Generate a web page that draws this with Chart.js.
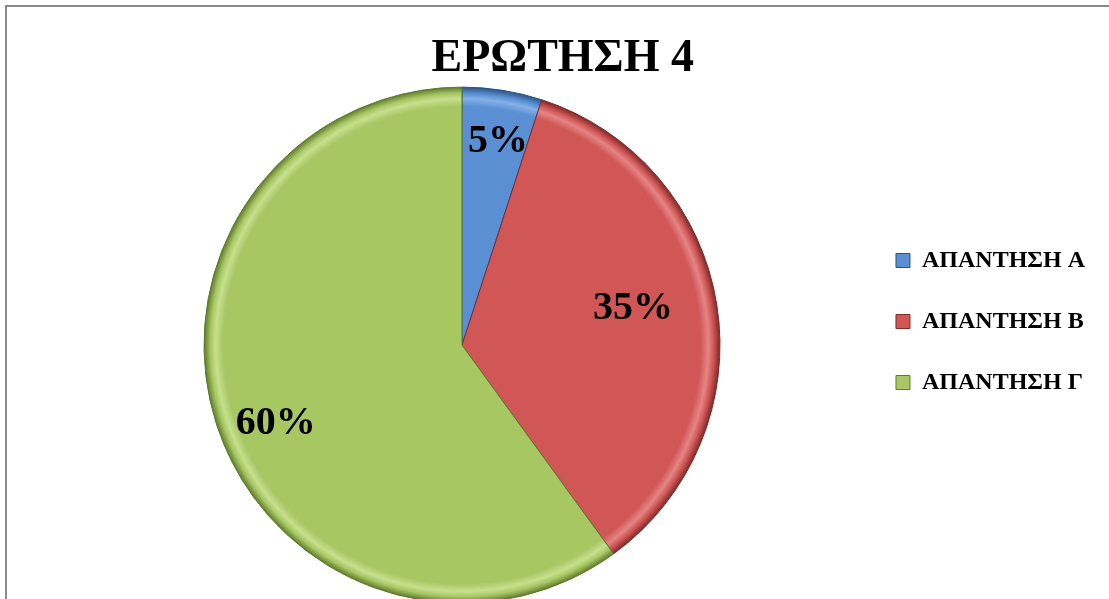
<!DOCTYPE html>
<html>
<head>
<meta charset="utf-8">
<script src="https://cdn.jsdelivr.net/npm/chart.js"></script>
<style>
  html, body { margin: 0; padding: 0; background: #fff; overflow: hidden; }
  #wrap { position: relative; width: 1109px; height: 599px; }
  #frame { position: absolute; left: 5px; top: 5px; width: 1120px; height: 620px; border: 2px solid #8a8a8a; box-sizing: border-box; }
  canvas { position: absolute; left: 0; top: 0; }
</style>
</head>
<body>
<div id="wrap">
  <div id="frame"></div>
  <canvas id="grafico" width="1109" height="599"></canvas>
</div>
<script>
// dados do gráfico
var categorias = ['ΑΠΑΝΤΗΣΗ Α', 'ΑΠΑΝΤΗΣΗ Β', 'ΑΠΑΝΤΗΣΗ Γ'];
var valores = [5, 35, 60];

// cores das fatias
var cores = ['#5a8fd3', '#d05756', '#a7c763'];
var coresClaras = ['#86b0e6', '#e38584', '#c6e08e'];
var coresEscuras = ['#2c5387', '#7f2928', '#5f7a2c'];

var RAIO = 258;
// posição dos rótulos dentro de cada fatia (fração do ângulo e do raio)
var fracAngulo = [0.55, 0.47, 0.48];
var fracRaio = [0.81, 0.68, 0.78];

// gradiente radial para imitar o relevo das fatias
function preenchimento(context) {
  var chart = context.chart;
  var area = chart.chartArea;
  var i = context.dataIndex;
  if (!area) return cores[i];
  var cx = (area.left + area.right) / 2;
  var cy = (area.top + area.bottom) / 2;
  var g = chart.ctx.createRadialGradient(cx, cy, 0, cx, cy, RAIO);
  g.addColorStop(0, cores[i]);
  g.addColorStop(0.925, cores[i]);
  g.addColorStop(0.955, coresClaras[i]);
  g.addColorStop(0.975, cores[i]);
  g.addColorStop(1, coresEscuras[i]);
  return g;
}

// rótulos de percentagem dentro das fatias
var rotulosPlugin = {
  id: 'rotulos',
  afterDatasetsDraw: function(chart) {
    var meta = chart.getDatasetMeta(0);
    var ctx = chart.ctx;
    ctx.save();
    ctx.font = 'bold 40px "Liberation Serif"';
    ctx.fillStyle = '#000';
    ctx.textAlign = 'center';
    ctx.textBaseline = 'middle';
    meta.data.forEach(function(arc, i) {
      var p = arc.getProps(['x', 'y', 'startAngle', 'endAngle', 'outerRadius']);
      var ang = p.startAngle + (p.endAngle - p.startAngle) * fracAngulo[i];
      var r = p.outerRadius * fracRaio[i];
      ctx.fillText(valores[i] + '%', p.x + Math.cos(ang) * r, p.y + Math.sin(ang) * r + 2);
    });
    ctx.restore();
  }
};

var ctx = document.getElementById('grafico').getContext('2d');
var grafico = new Chart(ctx, {
  type: 'pie',
  data: {
    labels: categorias,
    datasets: [{
      data: valores,
      backgroundColor: preenchimento,
      borderColor: coresEscuras,
      borderWidth: 1,
      radius: RAIO,
      clip: false
    }]
  },
  options: {
    responsive: false,
    animation: false,
    events: [],
    layout: { padding: { left: 65, right: 14, top: 0, bottom: 0 } },
    plugins: {
      tooltip: { enabled: false },
      title: {
        display: true,
        text: 'ΕΡΩΤΗΣΗ 4   ', // espaços finais puxam o título um pouco à esquerda
        color: '#000',
        font: { family: '"Liberation Serif"', size: 46, weight: 'bold' },
        padding: { top: 32, bottom: 4 }
      },
      legend: {
        position: 'right',
        title: { display: true, text: ' ', font: { size: 10 }, padding: 16 },
        labels: {
          color: '#000',
          font: { family: '"Liberation Serif"', size: 24, weight: 'bold' },
          boxWidth: 14,
          boxHeight: 14,
          padding: 37,
          generateLabels: function(chart) {
            return categorias.map(function(c, i) {
              return { text: c, fillStyle: cores[i], strokeStyle: coresEscuras[i], fontColor: '#000', lineWidth: 1, index: i, hidden: false };
            });
          }
        }
      }
    }
  },
  plugins: [rotulosPlugin]
});
</script>
</body>
</html>
